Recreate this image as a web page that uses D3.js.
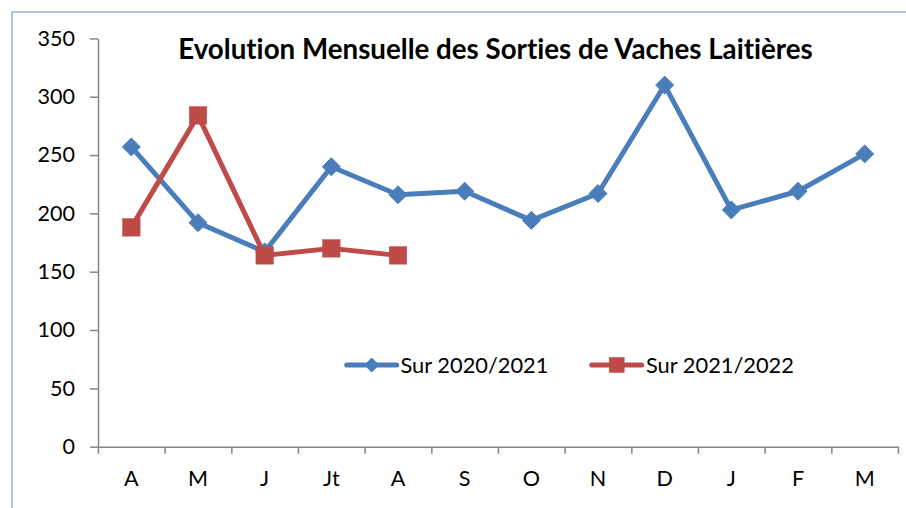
<!DOCTYPE html>
<html>
<head>
<meta charset="utf-8">
<script src="https://cdn.jsdelivr.net/npm/d3@7"></script>
<style>
  html, body { margin: 0; padding: 0; background: #fff; }
  svg { display: block; }
  text { font-family: Lato, "Open Sans", sans-serif; fill: #000; font-variant-ligatures: none; font-feature-settings: "liga" 0, "clig" 0; }
</style>
</head>
<body>
<svg id="chart" width="906" height="508"></svg>
<script>
const categories = ["A", "M", "J", "Jt", "A", "S", "O", "N", "D", "J", "F", "M"];
const series2020 = [257, 192, 167, 240, 216, 219, 194, 217, 310, 203, 219, 251];
const series2021 = [188, 284, 164, 170, 164];
const yTicks = [0, 50, 100, 150, 200, 250, 300, 350];
const seriesNames = ["Sur 2020/2021", "Sur 2021/2022"];
const titleText = "Evolution Mensuelle des Sorties de Vaches Laitières";

const colors = ["#4A7EBB", "#BE4B48"];
const svg = d3.select("#chart");

// outer border (chart area frame)
svg.append("rect")
  .attr("x", 12).attr("y", 12).attr("width", 960).attr("height", 560)
  .attr("fill", "none").attr("stroke", "#95B3D7").attr("stroke-width", 1.5);

const x = d3.scaleBand().domain(d3.range(categories.length)).range([98, 898]);
const xEdge = d3.scaleLinear().domain([0, categories.length]).range([98, 898]);
const y = d3.scaleLinear().domain([0, 350]).range([446.7, 38.4]);

function fitSize(str, weight, target) {
  const t = svg.append("text").attr("font-size", 100).attr("font-weight", weight).text(str);
  const w = t.node().getComputedTextLength();
  t.remove();
  return 100 * target / w;
}
const tickFont = fitSize("350", "normal", 37.5);
const legendFont = fitSize("Sur 2020/2021", "normal", 148);
const titleFont = fitSize(titleText, "bold", 635);

// Y axis
const yAxis = svg.append("g").attr("transform", "translate(98,0)")
  .call(d3.axisLeft(y).tickValues(yTicks).tickSize(8).tickSizeOuter(0).tickPadding(15));
yAxis.select(".domain").attr("stroke", "#868686").attr("stroke-width", 1.5);
yAxis.selectAll(".tick line").attr("stroke", "#868686").attr("stroke-width", 1.5);
yAxis.selectAll(".tick text").attr("font-size", tickFont).attr("font-family", "Lato").attr("fill", "#000");

// X axis tick marks at band edges
const xAxisTicks = svg.append("g").attr("transform", "translate(0,446.7)")
  .call(d3.axisBottom(xEdge).tickValues(d3.range(categories.length + 1)).tickSize(7).tickSizeOuter(0).tickFormat(""));
xAxisTicks.select(".domain").attr("stroke", "#868686").attr("stroke-width", 1.5);
xAxisTicks.selectAll(".tick line").attr("stroke", "#868686").attr("stroke-width", 1.5);

// X labels
const xAxisLabels = svg.append("g").attr("transform", "translate(0,446.7)")
  .call(d3.axisBottom(x).tickSize(0).tickFormat(i => categories[i]));
xAxisLabels.select(".domain").remove();
xAxisLabels.selectAll(".tick text").attr("y", 39).attr("dy", 0)
  .attr("font-size", tickFont).attr("font-family", "Lato").attr("fill", "#000");

// Lines
const line = d3.line().x((d, i) => x(i) + x.bandwidth() / 2).y(d => y(d));
const allSeries = [series2020, series2021];

allSeries.forEach((s, k) => {
  svg.append("path").datum(s)
    .attr("d", line).attr("fill", "none")
    .attr("stroke", colors[k]).attr("stroke-width", 5).attr("stroke-linejoin", "round");
});

// Markers
function drawMarker(g, k, cx, cy, size) {
  if (k === 0) {
    const h = size / 2;
    g.append("path")
      .attr("d", `M${cx},${cy - h}L${cx + h},${cy}L${cx},${cy + h}L${cx - h},${cy}Z`)
      .attr("fill", colors[k]).attr("stroke", colors[k]).attr("stroke-width", 1).attr("stroke-linejoin", "round");
  } else {
    g.append("rect")
      .attr("x", cx - size / 2).attr("y", cy - size / 2).attr("width", size).attr("height", size)
      .attr("fill", colors[k]).attr("stroke", colors[k]).attr("stroke-width", 0.5);
  }
}
allSeries.forEach((s, k) => {
  const g = svg.append("g");
  s.forEach((v, i) => drawMarker(g, k, x(i) + x.bandwidth() / 2, y(v), k === 0 ? 18 : 17.5));
});

// Title
svg.append("text")
  .attr("x", 495.5).attr("y", 58.5).attr("text-anchor", "middle")
  .attr("font-weight", "bold").attr("font-size", titleFont)
  .text(titleText);

// Legend
const legendItems = [
  { lx: 346.7, tx: 400.5 },
  { lx: 591.7, tx: 646 }
];
legendItems.forEach((it, k) => {
  const g = svg.append("g");
  g.append("line").attr("x1", it.lx).attr("x2", it.lx + 50).attr("y1", 365).attr("y2", 365)
    .attr("stroke", colors[k]).attr("stroke-width", 5).attr("stroke-linecap", "round");
  drawMarker(g, k, it.lx + 25, 365, k === 0 ? 14 : 15);
  g.append("text").attr("x", it.tx).attr("y", 365).attr("dy", "0.35em")
    .attr("font-size", legendFont).text(seriesNames[k]);
});
</script>
</body>
</html>
